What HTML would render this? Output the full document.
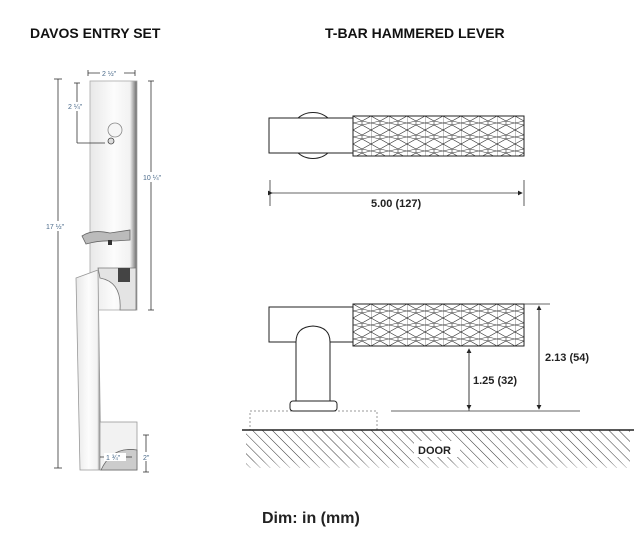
<!DOCTYPE html>
<html><head><style>
html,body{margin:0;padding:0;background:#fff;}
svg{display:block;}
</style></head><body>
<svg width="642" height="533" viewBox="0 0 642 533" xmlns="http://www.w3.org/2000/svg">
<defs>
<pattern id="ham" width="18" height="14" patternUnits="userSpaceOnUse" x="353" y="116">
<path d="M0 0L9 5L18 0M0 14L9 9L18 14M9 5V9M0 7L9 5M0 7L9 9M18 7L9 5M18 7L9 9M0 0V14" stroke="#333" stroke-width="0.6" fill="none"/>
</pattern>
<pattern id="ham2" width="18" height="14" patternUnits="userSpaceOnUse" x="353" y="304">
<path d="M0 0L9 5L18 0M0 14L9 9L18 14M9 5V9M0 7L9 5M0 7L9 9M18 7L9 5M18 7L9 9M0 0V14" stroke="#333" stroke-width="0.6" fill="none"/>
</pattern>
<pattern id="hatch" width="7" height="7" patternUnits="userSpaceOnUse" patternTransform="rotate(-45)">
<line x1="0" y1="0" x2="0" y2="7" stroke="#333" stroke-width="1"/>
</pattern>
<linearGradient id="met" x1="0" x2="1">
<stop offset="0" stop-color="#e8e8e8"/><stop offset="0.5" stop-color="#fcfcfc"/><stop offset="0.85" stop-color="#f2f2f2"/><stop offset="1" stop-color="#666"/>
</linearGradient>
<linearGradient id="fade" x1="0" y1="0" x2="0" y2="1">
<stop offset="0" stop-color="#fff" stop-opacity="0"/><stop offset="0.75" stop-color="#fff" stop-opacity="0"/><stop offset="1" stop-color="#fff" stop-opacity="0.8"/>
</linearGradient>
<marker id="ar" markerWidth="6" markerHeight="6" refX="5" refY="3" orient="auto"><path d="M0 0L6 3L0 6z" fill="#222"/></marker>
</defs>
<style>
text{font-family:"Liberation Sans",sans-serif;}
</style>
<text x="30" y="38" font-size="14" font-weight="bold" fill="#111">DAVOS ENTRY SET</text>
<text x="325" y="38" font-size="14" font-weight="bold" fill="#111">T-BAR HAMMERED LEVER</text>
<text x="262" y="523" font-size="16" font-weight="bold" fill="#222">Dim: in (mm)</text>

<!-- handleset -->
<g stroke="#aaa" stroke-width="0.8">
<rect x="90" y="81" width="47" height="229" fill="url(#met)"/>
<circle cx="115" cy="130" r="7" fill="#f6f6f6" stroke="#888"/>
<circle cx="111" cy="141" r="3" fill="#ddd" stroke="#444"/>
<path d="M82 236 Q92 229 110 233 L130 230 L130 240 L115 241 Q100 240 86 244 Z" fill="#bbb" stroke="#666"/>
<rect x="108" y="240" width="4" height="5" fill="#333" stroke="none"/>
<path d="M98 268 L136 268 L136 310 L120 310 Q122 282 100 278 Z" fill="#e4e4e4" stroke="#777"/>
<rect x="118" y="268" width="12" height="14" fill="#444" stroke="none"/>
<path d="M76 278 L98 270 L101 470 L80 470 Z" fill="url(#met)" stroke="#999"/>
<rect x="100" y="422" width="37" height="48" fill="#f2f2f2" stroke="#999"/>
<path d="M101 470 Q112 446 137 450 L137 470 Z" fill="#ccc" stroke="#666"/>
</g>
<g stroke="#333" stroke-width="0.8" fill="none">
<line x1="58" y1="79" x2="58" y2="468"/><line x1="54" y1="79" x2="62" y2="79"/><line x1="54" y1="468" x2="62" y2="468"/>
<line x1="151" y1="81" x2="151" y2="310"/><line x1="148" y1="81" x2="154" y2="81"/><line x1="148" y1="310" x2="154" y2="310"/>
<line x1="77" y1="83" x2="77" y2="143"/><line x1="77" y1="143" x2="105" y2="143"/><line x1="74" y1="83" x2="80" y2="83"/>
<line x1="88" y1="73" x2="135" y2="73"/><line x1="88" y1="70" x2="88" y2="76"/><line x1="135" y1="70" x2="135" y2="76"/>
<line x1="146" y1="435" x2="146" y2="472"/><line x1="143" y1="435" x2="149" y2="435"/><line x1="143" y1="472" x2="149" y2="472"/>
<line x1="100" y1="457" x2="132" y2="457"/>
</g>
<g font-size="7" fill="#4a6a8a">
<rect x="100" y="69" width="24" height="8" fill="#fff"/><text x="102" y="76">2 ½"</text>
<rect x="66" y="102" width="22" height="9" fill="#fff"/><text x="68" y="109">2 ¼"</text>
<rect x="142" y="172" width="24" height="10" fill="#fff"/><text x="143" y="180">10 ¼"</text>
<rect x="44" y="221" width="24" height="10" fill="#fff"/><text x="46" y="229">17 ½"</text>
<rect x="141" y="452" width="10" height="9" fill="#fff"/><text x="143" y="460">2"</text>
<rect x="104" y="453" width="22" height="8" fill="#fff"/><text x="106" y="460">1 ¾"</text>
</g>

<!-- top lever -->
<g stroke="#222" stroke-width="1" >
<circle cx="313" cy="135.5" r="23" fill="#fff"/>
<rect x="269" y="118" width="84" height="35" fill="#fff"/>
<rect x="353" y="116" width="171" height="40" fill="url(#ham)"/>
</g>
<g stroke="#333" stroke-width="0.8">
<line x1="270" y1="180" x2="270" y2="206"/><line x1="524" y1="180" x2="524" y2="206"/>
<line x1="272" y1="193" x2="522" y2="193" marker-end="url(#ar)" marker-start="url(#ar)"/>
</g>
<text x="371" y="207" font-size="11" font-weight="bold" fill="#222">5.00 (127)</text>

<!-- bottom lever -->
<rect x="250" y="411" width="127" height="19" fill="none" stroke="#999" stroke-dasharray="2,2"/>
<rect x="246" y="430" width="384" height="38" fill="url(#hatch)"/>
<rect x="242" y="430" width="392" height="40" fill="url(#fade)"/>
<rect x="414" y="441" width="46" height="16" fill="#fff"/>
<line x1="242" y1="430" x2="634" y2="430" stroke="#222" stroke-width="1.5"/>
<text x="418" y="454" font-size="11" font-weight="bold" fill="#222">DOOR</text>
<g stroke="#222" stroke-width="1" fill="#fff">
<rect x="269" y="307" width="84" height="35"/>
<path d="M296 401 L296 342 Q296 327 313 326 Q330 327 330 342 L330 401"/>
<rect x="290" y="401" width="47" height="10" rx="3"/>
<rect x="353" y="304" width="171" height="42" fill="url(#ham2)"/>
</g>
<g stroke="#333" stroke-width="0.8">
<line x1="391" y1="411" x2="580" y2="411"/>
<line x1="524" y1="304" x2="550" y2="304"/>
<line x1="469" y1="411" x2="469" y2="349" marker-end="url(#ar)"/>
<line x1="469" y1="349" x2="469" y2="409" marker-end="url(#ar)"/>
<line x1="539" y1="409" x2="539" y2="306" marker-end="url(#ar)"/>
<line x1="539" y1="306" x2="539" y2="409" marker-end="url(#ar)"/>
</g>
<text x="473" y="384" font-size="11" font-weight="bold" fill="#222">1.25 (32)</text>
<text x="545" y="361" font-size="11" font-weight="bold" fill="#222">2.13 (54)</text>
</svg>
</body></html>
